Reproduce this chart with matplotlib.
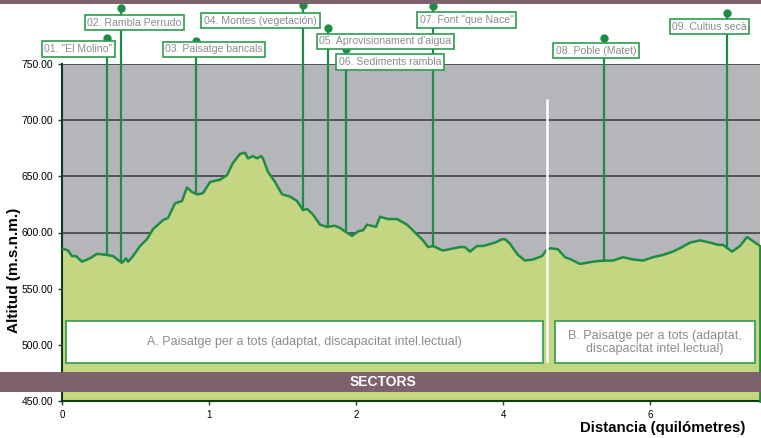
import numpy as np
import matplotlib.pyplot as plt
from matplotlib.patches import Rectangle

plt.rcParams['font.family'] = ['Liberation Sans', 'DejaVu Sans']

# profile (distance in axis units, altitude in m)
dist = [0.000, 0.041, 0.068, 0.095, 0.136, 0.190, 0.238, 0.306, 0.347, 0.408,
        0.435, 0.449, 0.483, 0.531, 0.578, 0.619, 0.687, 0.721, 0.769, 0.816,
        0.850, 0.884, 0.925, 0.959, 1.007, 1.075, 1.122, 1.163, 1.211, 1.245,
        1.265, 1.299, 1.327, 1.354, 1.367, 1.401, 1.449, 1.497, 1.551, 1.599,
        1.639, 1.667, 1.707, 1.755, 1.803, 1.857, 1.891, 1.925, 1.973, 2.014,
        2.048, 2.075, 2.136, 2.163, 2.218, 2.279, 2.347, 2.401, 2.456, 2.490,
        2.524, 2.571, 2.592, 2.707, 2.741, 2.776, 2.823, 2.864, 2.946, 2.993,
        3.014, 3.048, 3.068, 3.102, 3.150, 3.204, 3.265, 3.293, 3.320, 3.374,
        3.422, 3.463, 3.524, 3.612, 3.680, 3.748, 3.816, 3.884, 3.952, 4.020,
        4.088, 4.156, 4.218, 4.272, 4.340, 4.408, 4.463, 4.497, 4.558, 4.612,
        4.660, 4.748]
alt = [586, 584, 579, 579, 574, 577, 581, 580, 579, 573,
       577, 574, 579, 588, 594, 603, 611, 613, 626, 628,
       640, 636, 634, 635, 645, 647, 651, 662, 670, 671,
       666, 668, 666, 668, 666, 654, 645, 634, 632, 628,
       620, 621, 616, 607, 605, 606, 604, 601, 597, 601,
       602, 607, 605, 614, 612, 612, 607, 600, 593, 587,
       588, 585, 584, 587, 587, 583, 588, 588, 591, 594,
       594, 590, 586, 580, 575, 576, 579, 584, 586, 585,
       578, 576, 572, 574, 575, 575, 578, 576, 575, 578,
       580, 583, 587, 591, 593, 591, 589, 589, 583, 588,
       596, 588]

# waypoints
wp_names = ['01. "El Molino"', '02. Rambla Perrudo', '03. Paisatge bancals',
            '04. Montes (vegetación)', "05. Aprovisionament d'aigua",
            '06. Sediments rambla', '07. Font "que Nace"', '08. Poble (Matet)',
            '09. Cultius secà']
wp_dist = [0.306, 0.401, 0.912, 1.639, 1.810, 1.932, 2.524, 3.687, 4.524]

xtick_pos = [0, 1, 2, 3, 4]
xtick_lab = ['0', '1', '2', '4', '6']
ytick_vals = [450, 500, 550, 600, 650, 700, 750]

sector_a = 'A. Paisatge per a tots (adaptat, discapacitat intel.lectual)'
sector_b = 'B. Paisatge per a tots (adaptat,\ndiscapacitat intel.lectual)'

# layout (figure pixels): dot y, label box centre
W, H = 761, 438
dot_py = [38, 8, 41, 5, 28, 49, 6, 38, 13]
lab_px = [(78.5, 49), (134.5, 22.5), (214, 49.5), (260.5, 20.5), (385.5, 41.5),
          (390, 62), (466.5, 20), (596, 50.5), (709.5, 26.5)]

green = '#1f8c45'
fill = '#c4d681'
mauve = '#7d626e'
grey_txt = '#8c8c8c'

fig = plt.figure(figsize=(W / 100, H / 100), dpi=100)
ax = fig.add_axes([62 / W, 1 - 401 / H, 698 / W, 337 / H])
ax.set_facecolor('#b5b6ba')
ax.set_xlim(0, dist[-1])
ax.set_ylim(450, 750)

for y in ytick_vals[1:]:
    ax.axhline(y, color='#3a3a3a', lw=1.1, zorder=1)

ax.fill_between(dist, 450, alt, color=fill, zorder=2)
ax.plot(dist, alt, color=green, lw=1.8, zorder=3)
ax.plot([dist[-1], dist[-1]], [450, alt[-1]], color=green, lw=2, zorder=3, clip_on=False)

def px2data(px, py):
    return (px - 62) / 147.0, 750 - (py - 64) * 50 / 56.2

for i, name in enumerate(wp_names):
    x = wp_dist[i]
    ytop = px2data(0, dot_py[i])[1]
    ybot = np.interp(x, dist, alt)
    ax.plot([x, x], [ybot, ytop], color=green, lw=1.6, zorder=4, clip_on=False)
    ax.plot(x, ytop, 'o', color=green, ms=5, zorder=6, clip_on=False)
    lx, ly = lab_px[i]
    fig.text(lx / W, 1 - ly / H, name, ha='center', va='center', fontsize=7.6,
             color=grey_txt, zorder=7,
             bbox=dict(boxstyle='square,pad=0.25', fc='white', ec='#2e9b4f', lw=1.2))

# white divider between sectors
ax.plot([3.30, 3.30], [486, 718], color='white', lw=1.8, zorder=5)

# sector boxes
ax.add_patch(Rectangle(px2data(66, 363), (543 - 66) / 147.0, 41.6 * 50 / 56.2,
                       fc='white', ec='#2e9b4f', lw=1.2, zorder=6))
ax.add_patch(Rectangle(px2data(555, 363), (755 - 555) / 147.0, 41.6 * 50 / 56.2,
                       fc='white', ec='#2e9b4f', lw=1.2, zorder=6))
ax.text(*px2data(304.5, 342.5), sector_a, ha='center', va='center', fontsize=9,
        color=grey_txt, zorder=7)
ax.text(*px2data(655, 342.5), sector_b, ha='center', va='center', fontsize=9,
        color=grey_txt, zorder=7, linespacing=1.1)

# sectors bar across the figure
fig.patches.append(Rectangle((0, 1 - 392 / H), 1, 20 / H, transform=fig.transFigure,
                             fc=mauve, ec='none', zorder=8))
fig.text(383 / W, 1 - 382 / H, 'SECTORS', ha='center', va='center', fontsize=10,
         fontweight='bold', color='white', zorder=9)
fig.patches.append(Rectangle((0, 1 - 4 / H), 1, 4 / H, transform=fig.transFigure,
                             fc=mauve, ec='none', zorder=8))

ax.set_yticks(ytick_vals)
ax.set_yticklabels(['%.2f' % v for v in ytick_vals], fontsize=7.5)
ax.set_xticks(xtick_pos)
ax.set_xticklabels(xtick_lab, fontsize=7)
ax.tick_params(length=3, width=1, color='#333333')
for s in ['top', 'right']:
    ax.spines[s].set_visible(False)
ax.spines['left'].set_color('#0b3d1c')
ax.spines['bottom'].set_color('#0b3d1c')
ax.spines['left'].set_linewidth(1.5)
ax.spines['bottom'].set_linewidth(1.5)

fig.text(14 / W, 1 - 270 / H, 'Altitud (m.s.n.m.)', rotation=90, ha='center',
         va='center', fontsize=11, fontweight='bold')
fig.text(745 / W, 1 - 428 / H, 'Distancia (quilómetres)', ha='right', va='center',
         fontsize=10.8, fontweight='bold')

fig.savefig('out.png', dpi=100)
